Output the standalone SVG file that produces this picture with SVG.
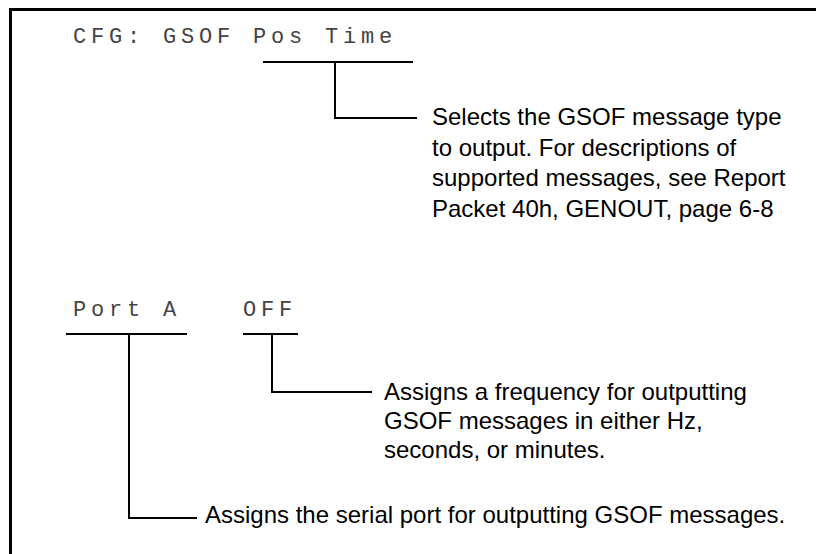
<svg xmlns="http://www.w3.org/2000/svg" width="816" height="554" viewBox="0 0 816 554">
<style>
.lcd{font-family:"Liberation Mono","DejaVu Sans Mono",monospace;font-size:22px;fill:#444;letter-spacing:4.8px}
.desc{font-family:"Liberation Sans",Arial,sans-serif;font-size:24px;fill:#000}
.ln{stroke:#000;stroke-width:2;fill:none}
.frame{stroke:#000;stroke-width:3;fill:none}
</style>
<rect width="816" height="554" fill="#fff"/>
<path class="frame" d="M10.5,554 V9.5 H816"/>
<g id="screen1"><text class="lcd" x="73" y="43">CFG: GSOF Pos Time</text></g>
<g id="screen2"><text class="lcd" x="73" y="316">Port A</text><text class="lcd" x="243" y="316">OFF</text></g>
<g id="note-type"><text class="desc" x="432" y="125">Selects the GSOF message type</text><text class="desc" x="432" y="155.5">to output. For descriptions of</text><text class="desc" x="432" y="186">supported messages, see Report</text><text class="desc" x="432" y="216.5">Packet 40h, GENOUT, page 6-8</text></g>
<g id="note-freq"><text class="desc" x="384" y="400">Assigns a frequency for outputting</text><text class="desc" x="384" y="429">GSOF messages in either Hz,</text><text class="desc" x="384" y="458">seconds, or minutes.</text></g>
<g id="note-port"><text class="desc" x="205" y="523">Assigns the serial port for outputting GSOF messages.</text></g>
<g id="connectors">
<path class="ln" d="M263,62 H413 M335,62 V118 H417"/>
<path class="ln" d="M66,334 H187 M129,334 V518 H197"/>
<path class="ln" d="M243,334 H298 M272,334 V392 H372"/>
</g>
</svg>
